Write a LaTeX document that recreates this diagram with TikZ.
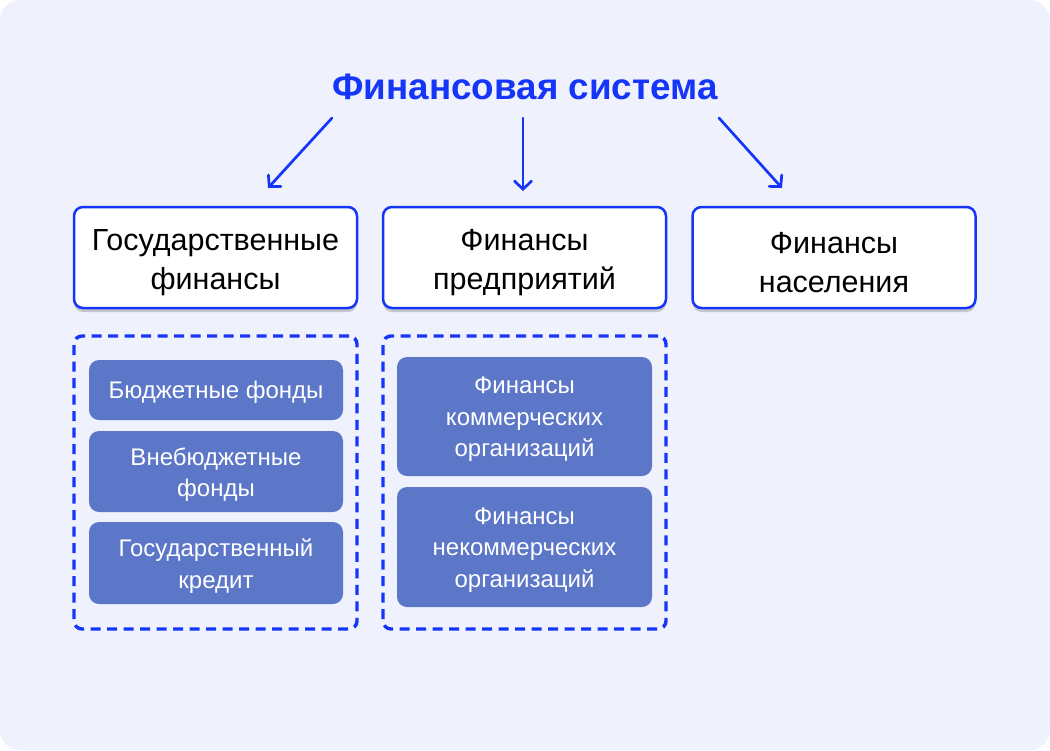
\documentclass[tikz,border=0pt]{standalone}
\usepackage{fontspec}
\setmainfont{Liberation Sans}
\usetikzlibrary{arrows.meta,shadows}
\definecolor{bg}{HTML}{EFF2FD}
\definecolor{bluel}{HTML}{1535F8}
\definecolor{fillb}{HTML}{5C77C8}
\tikzset{
  topbox/.style={draw=bluel, line width=2.5pt, fill=white, rounded corners=9pt,
    minimum width=283pt, minimum height=101pt, inner sep=0pt,
    drop shadow={shadow xshift=0pt, shadow yshift=-4pt, opacity=0.18, fill=black}},
  toptext/.style={align=center, inner sep=0pt, font=\fontsize{30.5}{39}\selectfont},
  dbox/.style={draw=bluel, line width=3.4pt, dash pattern=on 10pt off 6.5pt, rounded corners=8pt,
    minimum width=283pt, minimum height=293pt, inner sep=0pt},
  subbox/.style={fill=fillb, rounded corners=10pt, inner sep=0pt},
  subtext/.style={text=white, align=center, inner sep=0pt, font=\fontsize{24}{31.5}\selectfont},
  arr/.style={draw=bluel, line width=2.7pt, line cap=round, -{Straight Barb[length=8pt,width=17pt,line cap=round]}},
}
\begin{document}
\begin{tikzpicture}[x=1pt,y=-1pt]
\useasboundingbox (0,0) rectangle (1050,750);
\fill[bg, rounded corners=20pt] (0,0) rectangle (1050,750);
\node[font=\fontsize{36.8}{40}\selectfont\bfseries, text=bluel] (title) at (525,87) {Финансовая система};
\node[topbox] (gos) at (215.5,257.5) {};
\node[topbox] (pred) at (524.5,257.5) {};
\node[topbox] (nas) at (834,257.5) {};
\node[toptext] (gost) at ([yshift=-5pt]gos.center) {Государственные\\финансы};
\node[toptext] (predt) at ([yshift=-5pt]pred.center) {Финансы\\предприятий};
\node[toptext] (nast) at ([yshift=-5pt]nas.center) {Финансы\\населения};
\node[dbox] (d1) at (215.5,482.5) {};
\node[dbox] (d2) at (524.5,482.5) {};
\node[subbox, minimum width=254pt, minimum height=60pt] (b1) at (216,390) {};
\node[subbox, minimum width=254pt, minimum height=81pt] (b2) at (216,471.5) {};
\node[subbox, minimum width=254pt, minimum height=82pt] (b3) at (216,563) {};
\node[subbox, minimum width=255pt, minimum height=119pt] (c1) at (524.5,416.5) {};
\node[subbox, minimum width=255pt, minimum height=120pt] (c2) at (524.5,547) {};
\node[subtext] (b1t) at ([yshift=-2pt]b1.center) {Бюджетные фонды};
\node[subtext] (b2t) at ([yshift=-3pt]b2.center) {Внебюджетные\\фонды};
\node[subtext] (b3t) at ([yshift=-3pt]b3.center) {Государственный\\кредит};
\node[subtext] (c1t) at ([yshift=-3pt]c1.center) {Финансы\\коммерческих\\организаций};
\node[subtext] (c2t) at ([yshift=-3pt]c2.center) {Финансы\\некоммерческих\\организаций};
\coordinate (s1) at (332,118); \coordinate (e1) at (268,188);
\coordinate (s2) at (523,118); \coordinate (e2) at (523,191);
\coordinate (s3) at (719,118); \coordinate (e3) at (782,188);
\draw[arr] (s1) -- (e1);
\draw[arr] (s2) -- (e2);
\draw[arr] (s3) -- (e3);
\end{tikzpicture}
\end{document}
